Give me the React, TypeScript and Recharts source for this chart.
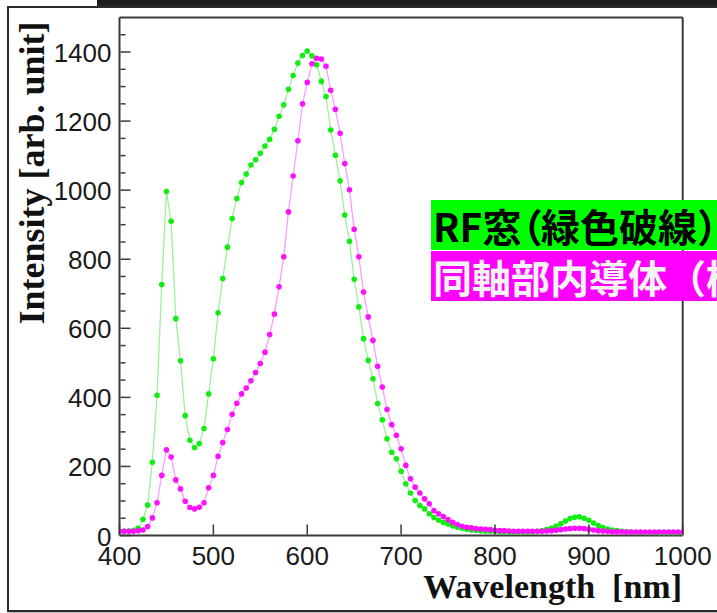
import React from 'react';
import { LineChart, Line, XAxis, YAxis, ReferenceLine } from 'recharts';

// wavelength grid [nm]
const wavelengths = [
  400, 405, 410, 415, 420, 425, 430, 435, 440, 445, 450, 455, 460, 465, 470, 475, 480, 485, 490, 495,
  500, 505, 510, 515, 520, 525, 530, 535, 540, 545, 550, 555, 560, 565, 570, 575, 580, 585, 590, 595,
  600, 605, 610, 615, 620, 625, 630, 635, 640, 645, 650, 655, 660, 665, 670, 675, 680, 685, 690, 695,
  700, 705, 710, 715, 720, 725, 730, 735, 740, 745, 750, 755, 760, 765, 770, 775, 780, 785, 790, 795,
  800, 805, 810, 815, 820, 825, 830, 835, 840, 845, 850, 855, 860, 865, 870, 875, 880, 885, 890, 895,
  900, 905, 910, 915, 920, 925, 930, 935, 940, 945, 950, 955, 960, 965, 970, 975, 980, 985, 990, 995,
  1000,
];

// RF window (green)
const rfWindow = [
  12, 12, 13, 15, 21, 47, 88, 212, 406, 727, 996, 910, 628, 506, 347, 276, 254, 266, 310, 410,
  512, 645, 744, 835, 918, 976, 1022, 1047, 1073, 1088, 1107, 1128, 1147, 1176, 1214, 1247, 1292, 1332, 1368, 1390,
  1403, 1389, 1363, 1315, 1271, 1174, 1101, 1027, 928, 852, 742, 662, 570, 507, 454, 382, 335, 280, 241, 222,
  186, 150, 123, 101, 87, 77, 63, 52, 44, 38, 33, 28, 24, 21, 18, 16, 15, 14, 13, 12,
  12, 11, 11, 10, 10, 10, 10, 10, 11, 12, 14, 17, 21, 27, 34, 42, 49, 53, 54, 50,
  44, 36, 29, 23, 19, 16, 14, 12, 11, 10, 9, 9, 8, 8, 8, 7, 7, 7, 7, 7,
  7,
];

// coaxial inner conductor (magenta)
const coaxInner = [
  12, 12, 12, 12, 14, 16, 26, 51, 95, 174, 248, 227, 161, 135, 99, 81, 77, 82, 95, 138,
  174, 229, 269, 307, 351, 383, 410, 427, 448, 472, 498, 531, 582, 641, 720, 807, 937, 1041, 1143, 1250,
  1312, 1366, 1382, 1380, 1359, 1289, 1234, 1165, 1077, 1001, 887, 807, 705, 633, 565, 490, 430, 365, 321, 290,
  251, 203, 164, 140, 123, 106, 92, 72, 63, 55, 46, 38, 32, 27, 24, 22, 20, 19, 18, 17,
  15, 14, 14, 13, 12, 12, 12, 12, 12, 12, 12, 13, 14, 15, 17, 19, 20, 21, 21, 20,
  18, 16, 14, 13, 12, 11, 11, 11, 10, 10, 10, 10, 10, 10, 10, 10, 10, 10, 10, 10,
  10,
];

const xTicks = [400, 500, 600, 700, 800, 900, 1000];
const yMajorTicks = [0, 200, 400, 600, 800, 1000, 1200, 1400];
const yTicks = Array.from({ length: 30 }, (_, i) => i * 50);

const data = wavelengths.map((wl, i) => ({ wl, rf: rfWindow[i], coax: coaxInner[i] }));

const frameColor = '#3a3a3a';
const tickFont = { fontFamily: '"Liberation Sans", Arial, sans-serif', fontSize: 26, fill: '#1a1a1a' };

const XTick = (props: any) => {
  const { x, y, payload } = props;
  return (
    <g>
      <line x1={x} x2={x} y1={y - 1} y2={y - 11} stroke={frameColor} strokeWidth={1.5} />
      <text x={x} y={y + 29} textAnchor="middle" {...tickFont}>
        {payload.value}
      </text>
    </g>
  );
};

const YTick = (props: any) => {
  const { x, y, payload } = props;
  const major = yMajorTicks.includes(payload.value);
  return (
    <g>
      <line x1={x + 1} x2={x + (major ? 11 : 6)} y1={y} y2={y} stroke={frameColor} strokeWidth={1.5} />
      {major && (
        <text x={x - 8} y={y + 10} textAnchor="end" {...tickFont}>
          {payload.value}
        </text>
      )}
    </g>
  );
};

const legendText: React.CSSProperties = {
  position: 'absolute',
  left: 431,
  width: 320,
  height: 50,
  paddingLeft: 2,
  whiteSpace: 'nowrap',
  fontFamily: '"Noto Sans CJK JP", sans-serif',
  fontWeight: 700,
  fontSize: 39,
  lineHeight: '50px',
};

export default function App() {
  return (
    <div
      style={{
        position: 'fixed',
        left: 0,
        top: 0,
        width: 717,
        height: 613,
        overflow: 'hidden',
        background: '#fff',
      }}
    >
      <div style={{ position: 'absolute', left: 97, top: 0, width: 620, height: 7, background: '#1c1c1c' }} />
      <div
        style={{
          position: 'absolute',
          left: 7,
          top: 6,
          width: 730,
          height: 602,
          border: '2px solid #2a2a2a',
          boxShadow: '1px 1px 2px #999',
        }}
      />
      <div style={{ position: 'absolute', left: 0, top: 0 }}>
        <LineChart width={717} height={613} data={data} margin={{ top: 17.5, right: 34.3, bottom: 76.5, left: 118.5 }}>
          <XAxis
            dataKey="wl"
            type="number"
            domain={[400, 1000]}
            ticks={xTicks}
            height={1}
            tickSize={0}
            tickMargin={0}
            tick={<XTick />}
            axisLine={{ stroke: frameColor, strokeWidth: 2 }}
            tickLine={false}
            interval={0}
            allowDataOverflow
          />
          <YAxis
            type="number"
            domain={[0, 1500]}
            ticks={yTicks}
            width={1}
            tickSize={0}
            tickMargin={0}
            tick={<YTick />}
            axisLine={{ stroke: frameColor, strokeWidth: 2 }}
            tickLine={false}
            interval={0}
            allowDataOverflow
          />
          <ReferenceLine y={1500} stroke={frameColor} strokeWidth={2} />
          <ReferenceLine x={1000} stroke={frameColor} strokeWidth={2} />
          <Line
            dataKey="rf"
            type="linear"
            stroke="#9cf09c"
            strokeWidth={1.3}
            dot={{ r: 2.8, fill: '#11ee11', stroke: 'none' }}
            isAnimationActive={false}
          />
          <Line
            dataKey="coax"
            type="linear"
            stroke="#ff9cff"
            strokeWidth={1.3}
            dot={{ r: 2.8, fill: '#ff11ff', stroke: 'none' }}
            isAnimationActive={false}
          />
        </LineChart>
      </div>
      <svg width={717} height={613} style={{ position: 'absolute', left: 0, top: 0, pointerEvents: 'none' }}>
        <text
          transform="rotate(-90)"
          x={-173}
          y={44}
          textAnchor="middle"
          fontFamily='"Liberation Serif", "Times New Roman", serif'
          fontWeight={700}
          fontSize={36}
          fill="#111"
        >
          Intensity [arb. unit]
        </text>
        <text
          x={682}
          y={598}
          textAnchor="end"
          fontFamily='"Liberation Serif", "Times New Roman", serif'
          fontWeight={700}
          fontSize={34}
          fill="#111"
          style={{ whiteSpace: 'pre' }}
        >
          {'Wavelength  [nm]'}
        </text>
      </svg>
      <div style={{ ...legendText, top: 200, background: '#00ff00', color: '#000' }}>
        RF窓<span style={{ fontFeatureSettings: '"palt"' }}>（</span>緑色破線）
      </div>
      <div style={{ ...legendText, top: 251, background: '#ff00ff', color: '#f4f4f4' }}>同軸部内導体（桃色実線）</div>
    </div>
  );
}
